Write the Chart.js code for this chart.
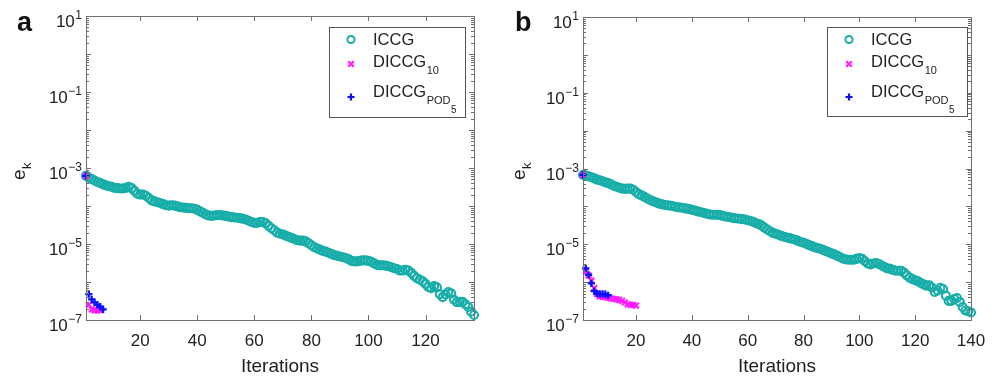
<!DOCTYPE html>
<html>
<head>
<meta charset="utf-8">
<script src="https://cdn.jsdelivr.net/npm/chart.js@4/dist/chart.umd.min.js"></script>
<style>
  html, body { margin: 0; padding: 0; background: #fff; }
  #wrap { position: relative; width: 998px; height: 379px; overflow: hidden; }
  canvas { position: absolute; top: 0; }
  #chartA { left: 0; }
  #chartB { left: 499px; }
</style>
</head>
<body>
<div id="wrap">
  <canvas id="chartA" width="499" height="379"></canvas>
  <canvas id="chartB" width="499" height="379"></canvas>
</div>
<script>
// Valores (residuo e_k por iteración)
const iccgA = [
  6.2e-4, 5.6e-4, 5.1e-4, 4.7e-4, 4.3e-4, 4.0e-4, 3.7e-4, 3.5e-4, 3.3e-4, 3.2e-4,
  3.0e-4, 2.95e-4, 2.9e-4, 2.9e-4, 3.0e-4, 3.2e-4, 2.95e-4, 2.5e-4, 2.1e-4, 2.0e-4,
  2.0e-4, 1.86e-4, 1.62e-4, 1.41e-4, 1.32e-4, 1.26e-4, 1.20e-4, 1.12e-4, 1.05e-4, 1.02e-4,
  1.05e-4, 1.02e-4, 9.8e-5, 9.3e-5, 9.1e-5, 8.9e-5, 8.7e-5, 8.7e-5, 8.5e-5, 7.9e-5,
  7.2e-5, 6.6e-5, 6.0e-5, 5.6e-5, 5.5e-5, 5.6e-5, 5.75e-5, 5.75e-5, 5.6e-5, 5.5e-5,
  5.25e-5, 5.1e-5, 5.0e-5, 4.9e-5, 4.8e-5, 4.6e-5, 4.4e-5, 4.1e-5, 3.8e-5, 3.6e-5,
  3.6e-5, 3.8e-5, 3.8e-5, 3.5e-5, 3.0e-5, 2.6e-5, 2.3e-5, 2.0e-5, 1.86e-5, 1.78e-5,
  1.66e-5, 1.55e-5, 1.45e-5, 1.35e-5, 1.26e-5, 1.23e-5, 1.23e-5, 1.17e-5, 1.05e-5, 9.3e-6,
  8.3e-6, 7.6e-6, 7.1e-6, 6.6e-6, 6.3e-6, 5.9e-6, 5.5e-6, 5.1e-6, 4.9e-6, 4.7e-6,
  4.5e-6, 4.3e-6, 4.0e-6, 3.6e-6, 3.5e-6, 3.5e-6, 3.6e-6, 3.7e-6, 3.7e-6, 3.6e-6,
  3.4e-6, 3.1e-6, 2.8e-6, 2.75e-6, 2.75e-6, 2.7e-6, 2.6e-6, 2.45e-6, 2.3e-6, 2.2e-6,
  2.0e-6, 2.0e-6, 2.1e-6, 2.0e-6, 1.74e-6, 1.45e-6, 1.26e-6, 1.15e-6, 1.05e-6, 8.9e-7,
  7.4e-7, 6.9e-7, 7.8e-7, 7.2e-7, 4.8e-7, 4.0e-7, 4.7e-7, 5.4e-7, 5.0e-7, 3.4e-7,
  2.95e-7, 3.0e-7, 3.0e-7, 2.6e-7, 2.2e-7, 1.66e-7, 1.35e-7
];
const diccg10A = [6.2e-4, 2.5e-7, 1.9e-7, 1.8e-7, 1.8e-7, 1.8e-7];
const diccgPodA = [6.2e-4, 4.8e-7, 3.5e-7, 2.9e-7, 2.5e-7, 2.25e-7, 1.9e-7];

const iccgB = [
  6.8e-4, 6.5e-4, 6.2e-4, 5.9e-4, 5.5e-4, 5.1e-4, 4.9e-4, 4.6e-4, 4.3e-4, 4.1e-4,
  3.8e-4, 3.5e-4, 3.3e-4, 3.1e-4, 2.95e-4, 2.9e-4, 2.95e-4, 2.95e-4, 2.75e-4, 2.4e-4,
  2.1e-4, 1.95e-4, 1.78e-4, 1.62e-4, 1.48e-4, 1.38e-4, 1.29e-4, 1.20e-4, 1.15e-4, 1.10e-4,
  1.07e-4, 1.05e-4, 1.02e-4, 9.8e-5, 9.5e-5, 9.3e-5, 9.1e-5, 8.7e-5, 8.5e-5, 8.1e-5,
  7.8e-5, 7.4e-5, 7.1e-5, 6.8e-5, 6.5e-5, 6.2e-5, 6.0e-5, 6.0e-5, 6.0e-5, 5.9e-5,
  5.6e-5, 5.4e-5, 5.25e-5, 5.1e-5, 4.9e-5, 4.8e-5, 4.7e-5, 4.6e-5, 4.5e-5, 4.3e-5,
  4.1e-5, 3.9e-5, 3.6e-5, 3.4e-5, 3.1e-5, 2.75e-5, 2.45e-5, 2.2e-5, 2.0e-5, 1.9e-5,
  1.78e-5, 1.66e-5, 1.58e-5, 1.51e-5, 1.45e-5, 1.38e-5, 1.32e-5, 1.23e-5, 1.15e-5, 1.10e-5,
  1.02e-5, 9.5e-6, 8.9e-6, 8.3e-6, 7.9e-6, 7.6e-6, 7.1e-6, 6.6e-6, 6.2e-6, 5.75e-6,
  5.4e-6, 5.0e-6, 4.6e-6, 4.2e-6, 4.0e-6, 3.9e-6, 3.9e-6, 3.9e-6, 4.1e-6, 4.3e-6,
  4.1e-6, 3.55e-6, 3.1e-6, 2.95e-6, 3.1e-6, 3.2e-6, 3.0e-6, 2.75e-6, 2.5e-6, 2.3e-6,
  2.25e-6, 2.1e-6, 2.0e-6, 2.0e-6, 2.0e-6, 1.78e-6, 1.51e-6, 1.32e-6, 1.20e-6, 1.12e-6,
  1.05e-6, 9.5e-7, 8.7e-7, 8.1e-7, 8.3e-7, 7.2e-7, 5.5e-7, 6.0e-7, 7.1e-7, 6.6e-7,
  4.4e-7, 3.2e-7, 3.2e-7, 3.6e-7, 3.8e-7, 3.0e-7, 2.2e-7, 1.78e-7, 1.7e-7, 1.58e-7
];
const diccg10B = [6.8e-4, 1.9e-6, 1.5e-6, 1.1e-6, 7.0e-7, 4.9e-7, 4.2e-7, 4.1e-7, 4.0e-7, 3.9e-7,
  3.7e-7, 3.6e-7, 3.5e-7, 3.4e-7, 3.2e-7, 2.9e-7, 2.6e-7, 2.5e-7, 2.5e-7, 2.4e-7];
const diccgPodB = [6.8e-4, 2.3e-6, 1.55e-6, 9.3e-7, 5.8e-7, 5.0e-7, 4.9e-7, 4.9e-7, 4.8e-7, 4.5e-7];

// Ejes
const yTickExps = [1, -1, -3, -5, -7];
const xTicksA = [20, 40, 60, 80, 100, 120];
const xTicksB = [20, 40, 60, 80, 100, 120, 140];

const FONT = '"Liberation Sans", Arial, Helvetica, sans-serif';
const TEAL = '#17ada8';
const MAGENTA = '#ff1cff';
const BLUE = '#0a10ff';
const AXIS = '#6f6f6f';
const TEXT = '#222';

// Convierte un array de valores en puntos (iteración, valor)
function series(values) {
    return values.map((v, i) => ({ x: i + 1, y: v }));
}

function drawMarker(ctx, style, x, y, color) {
    ctx.save();
    ctx.strokeStyle = color;
    ctx.lineWidth = style === 'circle' ? 2 : 2.2;
    ctx.beginPath();
    if (style === 'circle') {
        ctx.arc(x, y, 3.6, 0, Math.PI * 2);
    } else if (style === 'cross') {
        ctx.moveTo(x - 3.5, y); ctx.lineTo(x + 3.5, y);
        ctx.moveTo(x, y - 3.5); ctx.lineTo(x, y + 3.5);
    } else {
        ctx.moveTo(x - 2.8, y - 2.8); ctx.lineTo(x + 2.8, y + 2.8);
        ctx.moveTo(x + 2.8, y - 2.8); ctx.lineTo(x - 2.8, y + 2.8);
    }
    ctx.stroke();
    ctx.restore();
}

// Caja, marcas, etiquetas y leyenda al estilo MATLAB
const decorPlugin = {
    id: 'decor',
    afterDraw(chart, args, opts) {
        const ctx = chart.ctx;
        const a = chart.chartArea;
        const xs = chart.scales.x;
        const ys = chart.scales.y;
        ctx.save();

        // Marcas del eje y (mayores y menores)
        ctx.strokeStyle = AXIS;
        ctx.lineWidth = 1;
        ctx.beginPath();
        for (let e = -7; e <= 1; e++) {
            for (let m = 1; m <= 9; m++) {
                const v = m * Math.pow(10, e);
                if (v > 10.0001) break;
                const py = Math.round(ys.getPixelForValue(v)) + 0.5;
                const len = m === 1 ? 5 : 3;
                ctx.moveTo(a.left, py); ctx.lineTo(a.left + len, py);
                ctx.moveTo(a.right, py); ctx.lineTo(a.right - len, py);
            }
        }
        // Marcas del eje x
        opts.xTicks.forEach(v => {
            const px = Math.round(xs.getPixelForValue(v)) + 0.5;
            ctx.moveTo(px, a.bottom); ctx.lineTo(px, a.bottom - 5);
            ctx.moveTo(px, a.top); ctx.lineTo(px, a.top + 5);
        });
        ctx.stroke();

        // Caja
        ctx.strokeRect(a.left + 0.5, a.top + 0.5, a.right - a.left, a.bottom - a.top);

        ctx.fillStyle = TEXT;

        // Etiquetas del eje y: 10^n
        yTickExps.forEach(e => {
            const py = ys.getPixelForValue(Math.pow(10, e));
            const expTxt = e < 0 ? '\u2212' + Math.abs(e) : String(e);
            ctx.font = '12px ' + FONT;
            const ew = ctx.measureText(expTxt).width;
            ctx.textAlign = 'left';
            ctx.textBaseline = 'alphabetic';
            const right = a.left - 4;
            ctx.fillText(expTxt, right - ew, py + 3);
            ctx.font = '17px ' + FONT;
            ctx.textAlign = 'right';
            ctx.fillText('10', right - ew - 0.5, py + 11);
        });

        // Etiquetas del eje x
        ctx.font = '17px ' + FONT;
        ctx.textAlign = 'center';
        opts.xTicks.forEach(v => {
            ctx.fillText(String(v), xs.getPixelForValue(v), a.bottom + 26);
        });

        // Título del eje x
        ctx.font = '19px ' + FONT;
        ctx.fillText('Iterations', (a.left + a.right) / 2, 372);

        // Título del eje y: e_k (rotado)
        ctx.save();
        ctx.translate(opts.yTitleX, 180);
        ctx.rotate(-Math.PI / 2);
        ctx.textAlign = 'left';
        ctx.font = '19px ' + FONT;
        ctx.fillText('e', 0, 0);
        const ew = ctx.measureText('e').width;
        ctx.font = '13px ' + FONT;
        ctx.fillText('k', ew + 0.5, 6);
        ctx.restore();

        // Letra del panel
        ctx.font = 'bold 27px ' + FONT;
        ctx.textAlign = 'left';
        ctx.fillStyle = '#111';
        ctx.fillText(opts.letter, opts.letterX, 31);

        // Leyenda
        const lb = opts.legendBox;
        ctx.fillStyle = '#fff';
        ctx.fillRect(lb.x, lb.y, lb.w, lb.h);
        ctx.strokeStyle = '#555';
        ctx.lineWidth = 1;
        ctx.strokeRect(lb.x + 0.5, lb.y + 0.5, lb.w, lb.h);
        const mx = lb.x + 22;
        const tx = lb.x + 44;
        drawMarker(ctx, 'circle', mx, lb.y + 12.5, TEAL);
        drawMarker(ctx, 'crossRot', mx, lb.y + 37, MAGENTA);
        drawMarker(ctx, 'cross', mx, lb.y + 70, BLUE);
        ctx.fillStyle = TEXT;
        ctx.textAlign = 'left';
        ctx.font = '16.5px ' + FONT;
        ctx.fillText('ICCG', tx, lb.y + 18);
        ctx.fillText('DICCG', tx, lb.y + 40);
        let w = ctx.measureText('DICCG').width;
        ctx.fillText('DICCG', tx, lb.y + 70);
        ctx.font = '11px ' + FONT;
        ctx.fillText('10', tx + w + 0.5, lb.y + 47);
        ctx.fillText('POD', tx + w + 0.5, lb.y + 77);
        const pw = ctx.measureText('POD').width;
        ctx.font = '10px ' + FONT;
        ctx.fillText('5', tx + w + pw + 1, lb.y + 86);

        ctx.restore();
    }
};

function makeChart(canvasId, iccg, d10, dPod, xMax, xTicks, padding, decor) {
    const ctx = document.getElementById(canvasId).getContext('2d');
    return new Chart(ctx, {
        type: 'scatter',
        data: {
            datasets: [{
                label: 'ICCG',
                data: series(iccg),
                pointStyle: 'circle',
                pointRadius: 4,
                pointBorderWidth: 2.1,
                borderColor: TEAL,
                backgroundColor: 'rgba(0,0,0,0)',
                order: 3,
                clip: false
            }, {
                label: 'DICCG10',
                data: series(d10),
                pointStyle: 'crossRot',
                pointRadius: 4,
                pointBorderWidth: 2.2,
                borderColor: MAGENTA,
                backgroundColor: MAGENTA,
                order: 2,
                clip: false
            }, {
                label: 'DICCGPOD5',
                data: series(dPod),
                pointStyle: 'cross',
                pointRadius: 3.6,
                pointBorderWidth: 2.3,
                borderColor: BLUE,
                backgroundColor: BLUE,
                order: 1,
                clip: false
            }]
        },
        options: {
            responsive: false,
            animation: false,
            events: [],
            layout: { padding: padding },
            plugins: {
                legend: { display: false },
                tooltip: { enabled: false },
                decor: Object.assign({ xTicks: xTicks }, decor)
            },
            scales: {
                x: { type: 'linear', min: 1, max: xMax, display: false },
                y: { type: 'logarithmic', min: 1e-7, max: 10, display: false }
            }
        },
        plugins: [decorPlugin]
    });
}

document.addEventListener('DOMContentLoaded', () => {
    makeChart('chartA', iccgA, diccg10A, diccgPodA, 137, xTicksA,
        { left: 86, right: 25, top: 16, bottom: 59 },
        { letter: 'a', letterX: 17, yTitleX: 25, legendBox: { x: 329, y: 27, w: 136, h: 90 } });
    makeChart('chartB', iccgB, diccg10B, diccgPodB, 140, xTicksB,
        { left: 84, right: 27, top: 17, bottom: 59 },
        { letter: 'b', letterX: 16, yTitleX: 26, legendBox: { x: 328, y: 27, w: 140, h: 89 } });
});
</script>
</body>
</html>
